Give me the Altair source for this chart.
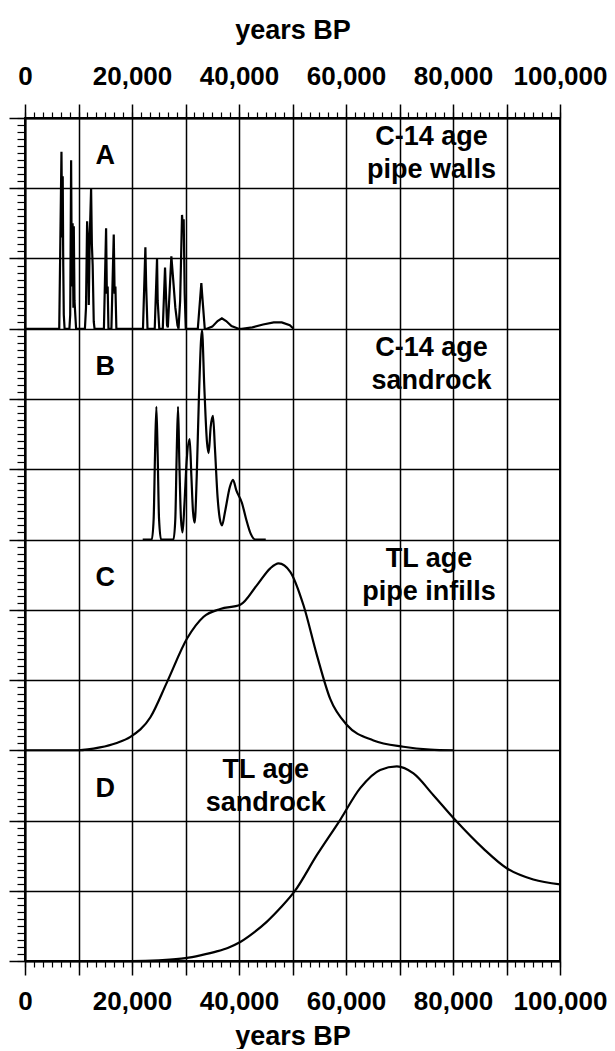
import altair as alt
import pandas as pd

# ---------------- data ----------------
# x = years BP, y = height in grid-row units inside each panel (0..3)
A_x = [0, 6400, 6816, 6950, 7050, 7150, 7250, 7400,
       8300, 8450, 8622, 8750, 8900, 9050, 9120, 9250, 9400, 9550,
       11200, 11400, 11609, 11800, 11920, 12100, 12356, 12500, 12650, 12850, 13000,
       14750, 15158, 15300, 15450, 15600,
       16150, 16588, 16750, 16900, 17080,
       22050, 22502, 22650, 22900,
       24250, 24681, 24800, 25100,
       25750, 26175, 26300, 26550,
       26700, 27357, 27700, 28100, 28500,
       28700, 29000, 29350, 29500, 29660, 29850, 30050,
       32300, 32960, 33100, 33600,
       34000, 35000, 36000, 36800, 37600, 38600, 39900,
       40500, 42500, 44500, 46500, 48000, 49500, 50200]
A_y = [0, 0, 2.52, 1.3, 2.17, 0.9, 0.2, 0,
       0, 0.2, 2.40, 0.6, 1.5, 0.3, 1.46, 0.4, 0.2, 0,
       0, 0.3, 1.53, 1.2, 0.34, 1.3, 2.0, 1.2, 0.9, 0.1, 0,
       0, 1.43, 0.5, 0.6, 0,
       0, 1.34, 0.5, 0.6, 0,
       0, 1.16, 0.6, 0,
       0, 1.0, 0.4, 0,
       0, 0.87, 0.6, 0.05,
       0.02, 1.03, 0.7, 0.3, 0.05,
       0, 0.4, 1.62, 1.45, 1.56, 0.5, 0,
       0, 0.65, 0.5, 0,
       0, 0.03, 0.11, 0.15, 0.11, 0.04, 0,
       0, 0.02, 0.06, 0.09, 0.09, 0.05, 0]

B_x = [22000, 23700, 24050, 24300, 24556, 24800, 25050, 25430,
       27750, 28100, 28350, 28603, 28850, 29150, 29450, 29800, 30200, 30780,
       31100, 31400, 31714, 32100, 32500, 33084, 33500, 34000, 34329, 34700,
       35138, 35500, 36000, 36400, 36820, 37400, 38300, 38874, 39500, 40555,
       41300, 42200, 43044, 45000]
B_y = [0, 0, 0.3, 1.2, 1.89, 1.2, 0.3, 0,
       0, 0.3, 1.2, 1.89, 1.1, 0.3, 0.1, 0.5, 1.1, 1.43,
       0.9, 0.4, 0.24, 0.9, 2.0, 2.98, 2.2, 1.4, 1.23, 1.6,
       1.76, 1.3, 0.6, 0.3, 0.20, 0.4, 0.75, 0.85, 0.7, 0.52,
       0.3, 0.08, 0, 0]

C_x = [0, 10000, 14000, 17000, 19700, 23440, 26550, 30290, 33390, 36510,
       40240, 43360, 45850, 47400, 49580, 52070, 54570, 57050, 60170,
       65140, 70740, 75720, 80000]
C_y = [0, 0, 0.04, 0.1, 0.19, 0.47, 0.97, 1.59, 1.90, 2.01,
       2.07, 2.35, 2.59, 2.66, 2.54, 2.06, 1.35, 0.73, 0.36,
       0.14, 0.05, 0.01, 0]

D_x = [0, 20000, 25000, 30000, 32770, 36000, 38000, 40240, 42700, 45230, 47800,
       50380, 54570, 58920, 62650, 66390, 69510, 72610, 76340, 80390,
       85680, 90050, 95010, 100000]
D_y = [0, 0, 0.01, 0.04, 0.08, 0.14, 0.19, 0.27, 0.40, 0.56, 0.76,
       0.99, 1.51, 2.01, 2.46, 2.72, 2.77, 2.67, 2.36, 2.01,
       1.60, 1.32, 1.16, 1.09]

panel_letters = ["A", "B", "C", "D"]
panel_offsets = [9, 6, 3, 0]          # each panel is 3 grid rows tall
letter_x = 15000
label_lines_1 = ["C-14 age", "C-14 age", "TL age", "TL age"]
label_lines_2 = ["pipe walls", "sandrock", "pipe infills", "sandrock"]
label_x = [76000, 76000, 75500, 45000]

x_major = list(range(0, 100001, 10000))
x_minor = [i * 10000 / 6 for i in range(61)]
y_major = list(range(0, 13))
y_minor = [i / 10 for i in range(121)]

# ---------------- tables ----------------
def curve(name, xs, ys, off):
    assert len(xs) == len(ys)
    return pd.DataFrame({"panel": name, "x": xs, "y": [off + v for v in ys]})

spiky = curve("A", A_x, A_y, 9)
smooth = pd.concat([curve("B", B_x, B_y, 6), curve("C", C_x, C_y, 3),
                    curve("D", D_x, D_y, 0)])

letters = pd.DataFrame({"t": panel_letters, "x": letter_x,
                        "y": [o + 3 - 0.66 for o in panel_offsets]})
labels = pd.DataFrame({
    "t": label_lines_1 + label_lines_2,
    "x": label_x + label_x,
    "y": [o + 3 - 0.39 for o in panel_offsets] + [o + 3 - 0.86 for o in panel_offsets],
})

FONT = "Liberation Sans"
xs = alt.Scale(domain=[0, 100000], nice=False, zero=False)
ys = alt.Scale(domain=[0, 12], nice=False, zero=False)
lab = "datum.value % 20000 == 0 ? format(datum.value, ',') : ''"

def major_x(orient, grid):
    top = orient == "top"
    return alt.Axis(orient=orient, values=x_major, labelExpr=lab, grid=grid,
                    gridColor="black", gridWidth=1.5, gridOpacity=1,
                    tickSize=14, tickColor="black", tickWidth=1.5,
                    domainColor="black", domainWidth=2,
                    labelFont=FONT, labelFontSize=26, labelFontWeight="bold",
                    labelColor="black",
                    labelPadding=15 if top else 13, labelFlush=False, labelOverlap=False,
                    title="years BP", titleFont=FONT, titleFontSize=27,
                    titleFontWeight="bold", titleColor="black",
                    titlePadding=19 if top else 9)

def minor_x(orient):
    return alt.Axis(orient=orient, values=x_minor, labels=False, grid=False,
                    domain=False, tickSize=6, tickColor="black", tickWidth=1.2,
                    title=None)

l1 = alt.Chart(spiky).mark_line(color="black", strokeWidth=2.2).encode(
    x=alt.X("x:Q", scale=xs, axis=major_x("bottom", True)),
    y=alt.Y("y:Q", scale=ys, axis=alt.Axis(orient="left", values=y_major, labels=False,
            grid=True, gridColor="black", gridWidth=1.5, gridOpacity=1,
            tickSize=16, tickColor="black", tickWidth=1.5,
            domainColor="black", domainWidth=2, title=None)),
    detail="panel:N",
)
l2 = alt.Chart(smooth).mark_line(color="black", strokeWidth=2.2, interpolate="monotone").encode(
    x=alt.X("x:Q", scale=xs, axis=major_x("top", False)),
    y=alt.Y("y:Q", scale=ys, axis=alt.Axis(orient="left", values=y_minor, labels=False,
            grid=False, domain=False, tickSize=8, tickColor="black", tickWidth=1.2,
            title=None)),
    detail="panel:N",
)
l3 = alt.Chart(letters).mark_text(font=FONT, fontSize=27, fontWeight="bold", color="black",
                                   align="center", baseline="alphabetic").encode(
    x=alt.X("x:Q", scale=xs, axis=minor_x("bottom")),
    y=alt.Y("y:Q", scale=ys, axis=None),
    text="t:N",
)
l4 = alt.Chart(labels).mark_text(font=FONT, fontSize=27, fontWeight="bold", color="black",
                                  align="center", baseline="alphabetic").encode(
    x=alt.X("x:Q", scale=xs, axis=minor_x("top")),
    y=alt.Y("y:Q", scale=ys, axis=None),
    text="t:N",
)

chart = alt.layer(l1, l2, l3, l4).resolve_axis(x="independent", y="independent").properties(
    width=535, height=843,
    padding={"left": 0, "top": 8, "right": 0, "bottom": 0},
    background="white",
).configure_view(stroke="black", strokeWidth=2)

chart.save("out.html", embed_options={"renderer": "svg", "actions": False})
